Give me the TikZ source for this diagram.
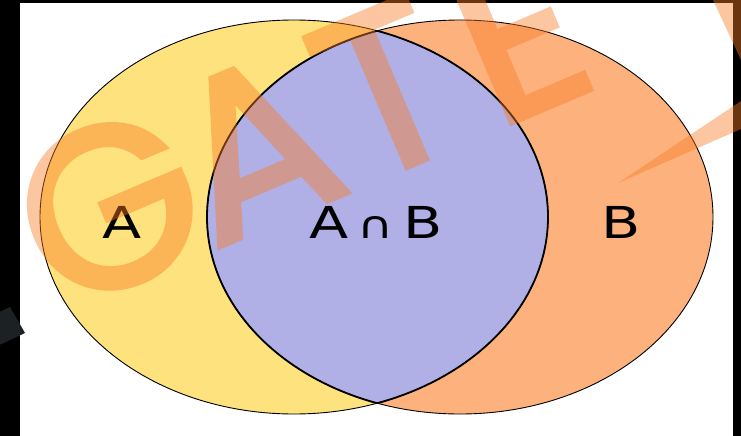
\documentclass[tikz,border=0pt]{standalone}
\usepackage{fontspec}
\newfontfamily\lblfont{DejaVu Sans}
\newfontfamily\wmfont{Poppins}[FakeBold=2.5]
\definecolor{ayellow}{RGB}{254,226,125}
\definecolor{borange}{RGB}{253,178,126}
\definecolor{lensblue}{RGB}{176,176,230}
\definecolor{wmorange}{RGB}{249,123,37}
\definecolor{wmdark}{RGB}{28,34,36}
\tikzset{
  outline/.style={draw=black, line width=0.9pt},
  lensline/.style={draw=black, line width=1.8pt},
  lbl/.style={font=\lblfont\fontsize{44}{44}\selectfont, text=black, inner sep=0pt},
  wm/.style={font=\wmfont\fontsize{228}{228}\selectfont, text=wmorange, inner sep=0pt},
  wmpart/.style={fill=wmorange, fill opacity=0.43}
}
\begin{document}
\begin{tikzpicture}[x=1pt,y=-1pt]
\useasboundingbox (0,0) rectangle (741,436);
% frame
\fill[black] (0,0) rectangle (741,436);
\fill[white] (20,3) rectangle (733,436);
% sets
\fill[ayellow] (294,217) ellipse [x radius=254, y radius=197];
\fill[borange] (460,217) ellipse [x radius=253, y radius=197];
\begin{scope}
  \clip (294,217) ellipse [x radius=254, y radius=197];
  \fill[lensblue] (460,217) ellipse [x radius=253, y radius=197];
  \draw[lensline] (460,217) ellipse [x radius=253, y radius=197];
\end{scope}
\begin{scope}
  \clip (460,217) ellipse [x radius=253, y radius=197];
  \draw[lensline] (294,217) ellipse [x radius=254, y radius=197];
\end{scope}
\draw[outline] (294,217) ellipse [x radius=254, y radius=197];
\draw[outline] (460,217) ellipse [x radius=253, y radius=197];
% labels
\node[lbl] (labA) at (122,222) {\scalebox{1.3}[1]{A}};
\node[lbl] (labB) at (621,222) {\scalebox{1.3}[1]{B}};
\node[lbl] (labAB) at (376,222) {\scalebox{1.3}[1]{A\,{\fontsize{38}{38}\selectfont ∩}\,B}};
% watermark
\begin{scope}[transparency group, opacity=0.43]
  \node[wm, rotate=23] (wmtext) at (300,126) {G\kern-10pt A\kern6pt T\kern24pt E};
\end{scope}
\fill[wmdark] (0,311.7) -- (10,307) -- (25,333) -- (0,344.7) -- cycle;
\fill[wmpart] (713,0) -- (741,0) -- (741,60) -- cycle;
\fill[wmpart] (618,183) -- (741,101) -- (741,129) -- cycle;
\end{tikzpicture}
\end{document}
